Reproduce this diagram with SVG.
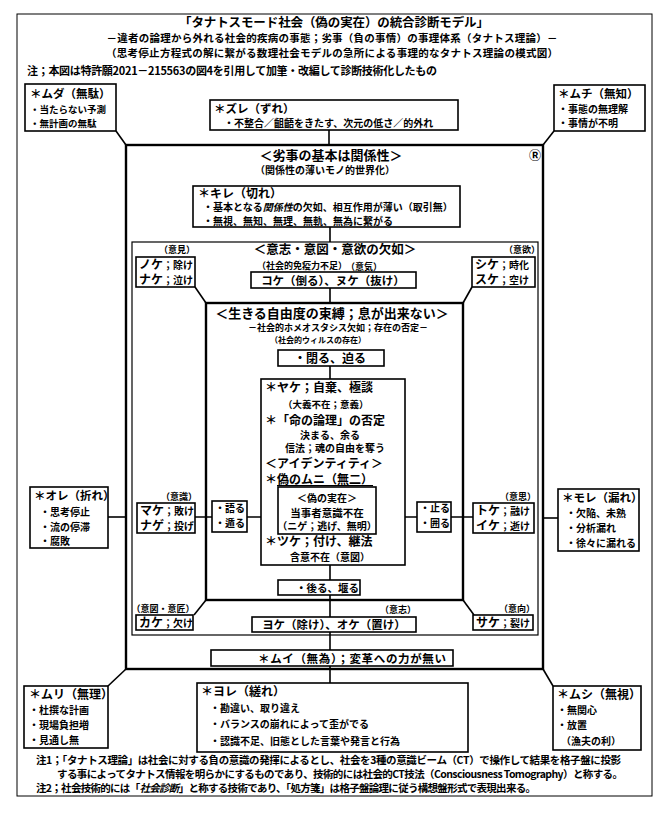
<svg xmlns="http://www.w3.org/2000/svg" width="669" height="827" viewBox="0 0 669 827">
<style>
text{font-family:"Noto Sans CJK JP","Noto Sans CJK SC",sans-serif;font-weight:bold;fill:#000}
.t{font-size:12px}
.b{font-size:10px}
.s{font-size:9px}
.c{text-anchor:middle}
.box{fill:#fff;stroke:#000;stroke-width:1.6}
.fr{fill:none;stroke:#000;stroke-width:2.4}
.fr2{fill:none;stroke:#000;stroke-width:1.2}
.ln{stroke:#000;stroke-width:1.6;fill:none}
</style>
<rect width="669" height="827" fill="#fff"/>
<rect x="17" y="14" width="635" height="782" fill="none" stroke="#000" stroke-width="1"/>

<g id="header">
<text x="334" y="27" class="c" font-size="12.5" textLength="310">「タナトスモード社会（偽の実在）の統合診断モデル」</text>
<text x="332" y="42" class="c" font-size="10.5" textLength="451">－違者の論理から外れる社会的疾病の事態；劣事（負の事情）の事理体系（タナトス理論）－</text>
<text x="332" y="56.5" class="c" font-size="10.5" textLength="452">（思考停止方程式の解に繋がる数理社会モデルの急所による事理的なタナトス理論の模式図）</text>
<text x="27" y="75" font-size="11" textLength="410">注；本図は特許願2021－215563の図4を引用して加筆・改編して診断技術化したもの</text>
</g>

<g id="frames">
<rect id="main-frame" class="fr" x="126" y="145" width="417" height="524"/>
<rect id="ishi-frame" class="fr2" x="132" y="242" width="406" height="393"/>
<rect id="ikiru-frame" class="fr" x="206" y="303" width="257" height="297" stroke-width="2"/>
</g>

<g id="connectors" class="ln">
<path d="M116,131 L126,145"/>
<path d="M329,130 V145"/>
<path d="M554,131 L543,145"/>
<path d="M330,227 V242"/>
<path d="M195,287 L206,303"/>
<path d="M472,287 L463,303"/>
<path d="M330,288 V303"/>
<path d="M330,366 V379"/>
<path d="M330,565 V580"/>
<path d="M330,595 V617"/>
<path d="M330,632 V650"/>
<path d="M330,666 V683"/>
<path d="M195,517 H212 M247,517 H261"/>
<path d="M405,517 H417 M451,517 H473"/>
<path d="M108,517 H126"/>
<path d="M543,518 H558"/>
<path d="M206,600 L194,615"/>
<path d="M463,600 L474,615"/>
<path d="M126,669 L108,686"/>
<path d="M543,669 L553,686"/>
</g>

<g id="muda">
<rect class="box" x="25" y="84" width="91" height="47"/>
<text x="30" y="98" font-size="11.5">＊ムダ（無駄）</text>
<text x="30" y="113" font-size="9.5">・当たらない予測</text>
<text x="30" y="127" font-size="9.5">・無計画の無駄</text>
</g>

<g id="zure">
<rect class="box" x="210" y="100" width="248" height="30"/>
<text x="214" y="113" font-size="11.5">＊ズレ（ずれ）</text>
<text x="224" y="127" class="b">・不整合／齟齬をきたす、次元の低さ／的外れ</text>
</g>

<g id="muchi">
<rect class="box" x="554" y="85" width="91" height="46"/>
<text x="558" y="98" font-size="11.5">＊ムチ（無知）</text>
<text x="558" y="113" class="b">・事態の無理解</text>
<text x="558" y="127" class="b">・事情が不明</text>
</g>

<g id="main-title">
<text x="331" y="160" class="c" font-size="13">＜劣事の基本は関係性＞</text>
<text x="325" y="174" class="c" font-size="10">（関係性の薄いモノ的世界化）</text>
<text x="535" y="160" class="c" font-size="12">Ⓡ</text>
</g>

<g id="kire">
<rect class="box" x="193" y="186" width="267" height="41"/>
<text x="198" y="198" class="t">＊キレ（切れ）</text>
<text x="203" y="211" class="b">・基本となる<tspan font-style="italic">関係性</tspan>の欠如、相互作用が薄い（取引無）</text>
<text x="203" y="224.5" class="b">・無視、無知、無理、無軌、無為に繋がる</text>
</g>

<g id="ishi-title">
<text x="335" y="254" class="c" font-size="12.5">＜意志・意図・意欲の欠如＞</text>
<text x="177" y="253" class="c s">（意見）</text>
<text x="522" y="253" class="c s">（意欲）</text>
<text x="302" y="268.5" class="c s">（社会的免疫力不足）</text>
<text x="364" y="270" class="c s">（意気）</text>
</g>

<g id="noke">
<rect class="box" x="136" y="257" width="59" height="30"/>
<text x="139" y="269"><tspan class="t">ノケ</tspan><tspan class="b">；除け</tspan></text>
<text x="139" y="284"><tspan class="t">ナケ</tspan><tspan class="b">；泣け</tspan></text>
</g>

<g id="shike">
<rect class="box" x="472" y="257" width="63" height="30"/>
<text x="475" y="269"><tspan class="t">シケ</tspan><tspan class="b">；時化</tspan></text>
<text x="475" y="284"><tspan class="t">スケ</tspan><tspan class="b">；空け</tspan></text>
</g>

<g id="koke">
<rect class="box" x="251" y="272" width="165" height="16"/>
<text x="333" y="285" class="c" font-size="11.5">コケ（倒る）、ヌケ（抜け）</text>
</g>

<g id="ikiru-title">
<text x="332" y="318" class="c" font-size="13">＜生きる自由度の束縛；息が出来ない＞</text>
<text x="338" y="331" class="c" font-size="9">－社会的ホメオスタシス欠如；存在の否定－</text>
<text x="318" y="343" class="c" font-size="8">（社会的ウィルスの存在）</text>
</g>

<g id="shimaru">
<rect class="box" x="278" y="350" width="106" height="16"/>
<text x="330" y="362.5" class="c" font-size="12">・閉る、迫る</text>
</g>

<g id="center">
<rect class="box" x="261" y="379" width="144" height="186"/>
<text x="265" y="392" class="t">＊ヤケ；自棄、極談</text>
<text x="283" y="408" font-size="9.5">（大義不在；意義）</text>
<text x="265" y="425" class="t">＊「命の論理」の否定</text>
<text x="300" y="439" class="b">決まる、余る</text>
<text x="285" y="452" class="b">信法；魂の自由を奪う</text>
<text x="265" y="468" class="t">＜アイデンティティ＞</text>
<text x="265" y="484" class="t">＊<tspan text-decoration="underline">偽のムニ（無二）</tspan></text>
<text x="265" y="546" class="t">＊ツケ；付け、継法</text>
<text x="290" y="561" class="b">含意不在（意図）</text>
</g>

<g id="nise">
<rect class="box" x="278" y="487" width="98" height="47" stroke-width="2"/>
<text x="327" y="502" class="c b">＜偽の実在＞</text>
<text x="327" y="516.5" class="c" font-size="10.5">当事者意識不在</text>
<text x="327" y="530" class="c b">（ニゲ；逃げ、無明）</text>
</g>

<g id="kataru">
<rect class="box" x="212" y="501" width="35" height="31"/>
<text x="215" y="512" class="b">・語る</text>
<text x="215" y="527" class="b">・遁る</text>
</g>

<g id="tomaru">
<rect class="box" x="417" y="502" width="34" height="30"/>
<text x="420" y="512" class="b">・止る</text>
<text x="420" y="527" class="b">・囲る</text>
</g>

<g id="make">
<text x="179" y="500" class="c s">（意識）</text>
<rect class="box" x="137" y="503" width="58" height="30"/>
<text x="140" y="515"><tspan class="t">マケ</tspan><tspan class="b">；敗け</tspan></text>
<text x="140" y="530"><tspan class="t">ナゲ</tspan><tspan class="b">；投げ</tspan></text>
</g>

<g id="toke">
<text x="518" y="500" class="c s">（意思）</text>
<rect class="box" x="473" y="503" width="61" height="30"/>
<text x="476" y="515"><tspan class="t">トケ</tspan><tspan class="b">；融け</tspan></text>
<text x="476" y="530"><tspan class="t">イケ</tspan><tspan class="b">；逝け</tspan></text>
</g>

<g id="ore">
<rect class="box" x="30" y="487" width="78" height="61"/>
<text x="34" y="500" font-size="11.5">＊オレ（折れ）</text>
<text x="40" y="516" class="b">・思考停止</text>
<text x="40" y="531" class="b">・流の停滞</text>
<text x="40" y="545" class="b">・腐敗</text>
</g>

<g id="more">
<rect class="box" x="558" y="489" width="81" height="62"/>
<text x="562" y="502" font-size="11.5">＊モレ（漏れ）</text>
<text x="566" y="517" class="b">・欠陥、未熟</text>
<text x="566" y="532" class="b">・分析漏れ</text>
<text x="566" y="547" class="b">・徐々に漏れる</text>
</g>

<g id="okureru">
<rect class="box" x="278" y="580" width="82" height="15"/>
<text x="296" y="591.5" font-size="10.5">・後る、堰る</text>
</g>

<g id="kake">
<text x="163" y="612" class="c s">（意図・意匠）</text>
<rect class="box" x="136" y="615" width="57" height="15"/>
<text x="139" y="627"><tspan class="t">カケ</tspan><tspan class="b">；欠け</tspan></text>
</g>

<g id="yoke">
<text x="398" y="613" class="c s">（意志）</text>
<rect class="box" x="252" y="617" width="164" height="15"/>
<text x="334" y="629" class="c" font-size="11.5">ヨケ（除け）、オケ（置け）</text>
</g>

<g id="sake">
<text x="517" y="612" class="c s">（意向）</text>
<rect class="box" x="473" y="615" width="60" height="15"/>
<text x="476" y="627"><tspan class="t">サケ</tspan><tspan class="b">；裂け</tspan></text>
</g>

<g id="mui">
<rect class="box" x="211" y="650" width="242" height="16"/>
<text x="258" y="662.5" font-size="11.5" textLength="188">＊ムイ（無為）；変革への力が無い</text>
</g>

<g id="muri">
<rect class="box" x="24" y="686" width="84" height="62"/>
<text x="29" y="699" class="t">＊ムリ（無理）</text>
<text x="29" y="714" class="b">・杜撰な計画</text>
<text x="29" y="729" class="b">・現場負担増</text>
<text x="29" y="744" class="b">・見通し無</text>
</g>

<g id="yore">
<rect class="box" x="197" y="683" width="271" height="69"/>
<text x="201" y="696" class="t">＊ヨレ（縒れ）</text>
<text x="210" y="712" class="b">・勘違い、取り違え</text>
<text x="210" y="728" class="b">・バランスの崩れによって歪がでる</text>
<text x="210" y="745" class="b">・認識不足、旧態とした言葉や発言と行為</text>
</g>

<g id="mushi">
<rect class="box" x="553" y="686" width="88" height="64"/>
<text x="557" y="699" class="t">＊ムシ（無視）</text>
<text x="557" y="714" class="b">・無関心</text>
<text x="557" y="729" class="b">・放置</text>
<text x="561" y="745" class="b">（漁夫の利）</text>
</g>

<g id="notes">
<text x="36" y="764" font-size="10.5" textLength="585">注1；「タナトス理論」は社会に対する負の意識の発揮によるとし、社会を3種の意識ビーム（CT）で操作して結果を格子盤に投影</text>
<text x="57" y="778" font-size="10.5" textLength="566">する事によってタナトス情報を明らかにするものであり、技術的には社会的CT技法（Consciousness Tomography）と称する。</text>
<text x="36" y="792" font-size="10.5" textLength="500">注2；社会技術的には「<tspan font-style="italic">社会診断</tspan>」と称する技術であり、「処方箋」は格子盤論理に従う構想盤形式で表現出来る。</text>
</g>
</svg>
